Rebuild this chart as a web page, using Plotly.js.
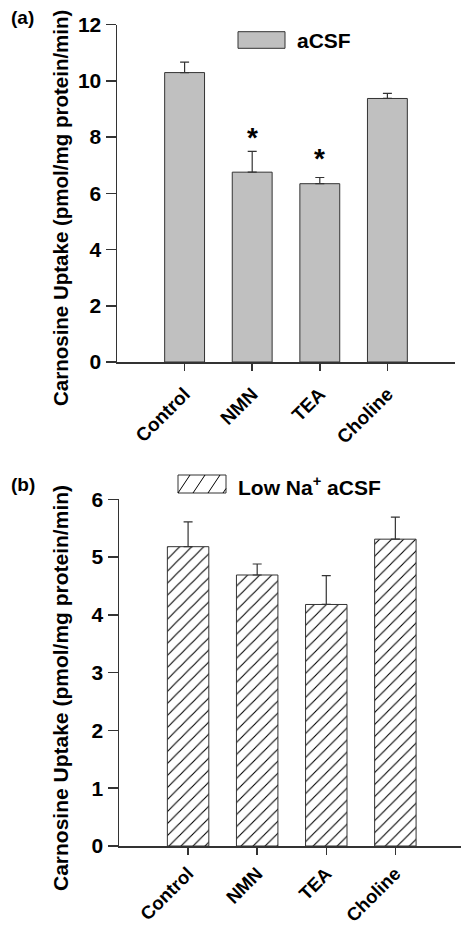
<!DOCTYPE html>
<html>
<head>
<meta charset="utf-8">
<script src="https://cdn.plot.ly/plotly-3.0.1.min.js"></script>
<style>html,body{margin:0;padding:0;background:#fff;}#chart{width:461px;height:925px;}</style>
</head>
<body>
<div id="chart"></div>
<script>
// ---- data ----
const categories = ["Control", "NMN", "TEA", "Choline"];
const uptakeACSF = [10.29, 6.75, 6.34, 9.37];
const errACSF = [0.37, 0.74, 0.22, 0.18];
const uptakeLowNa = [5.18, 4.69, 4.18, 5.31];
const errLowNa = [0.43, 0.19, 0.50, 0.38];
const starCategories = ["NMN", "TEA"];
const starLevels = [7.97, 7.22];
const yTicksA = [0, 2, 4, 6, 8, 10, 12];
const yTicksB = [0, 1, 2, 3, 4, 5, 6];
const yTitle = "Carnosine Uptake (pmol/mg protein/min)";

const W = 461, H = 925;
const FONT = "Liberation Sans, Arial, Helvetica, sans-serif";
const px = x => x / W;
const py = y => 1 - y / H;
const zeros = categories.map(() => 0);
const bold = arr => arr.map(v => "<b>" + v + "</b>");

const traces = [
  {
    type: "bar", x: categories, y: uptakeACSF, xaxis: "x", yaxis: "y",
    width: 0.59,
    marker: {color: "#c0c0c0", line: {color: "#333", width: 1}},
    error_y: {type: "data", symmetric: false, array: errACSF, arrayminus: zeros,
              color: "#333", thickness: 1.2, width: 4.5},
    showlegend: false, hoverinfo: "skip"
  },
  {
    type: "bar", x: categories, y: uptakeLowNa, xaxis: "x2", yaxis: "y2",
    width: 0.6,
    marker: {color: "#ffffff", line: {color: "#333", width: 1},
             pattern: {shape: "/", fgcolor: "#000", bgcolor: "#fff", size: 8.5, solidity: 0.13}},
    error_y: {type: "data", symmetric: false, array: errLowNa, arrayminus: zeros,
              color: "#333", thickness: 1.2, width: 4.5},
    showlegend: false, hoverinfo: "skip"
  }
];

const axisCommon = {
  showline: true, linecolor: "#333", linewidth: 1.5,
  showgrid: false, zeroline: false,
  ticks: "outside", tickcolor: "#333", tickwidth: 1.5,
  fixedrange: true
};

const layout = {
  width: W, height: H,
  margin: {l: 0, r: 0, t: 0, b: 0},
  paper_bgcolor: "#fff", plot_bgcolor: "rgba(0,0,0,0)",
  font: {family: FONT, color: "#000"},
  bargap: 0,
  xaxis: Object.assign({}, axisCommon, {
    domain: [px(117), px(455)], range: [-1, 4], anchor: "y",
    type: "category", ticklen: 7, tickangle: -45, ticklabelstandoff: 5,
    tickvals: categories, ticktext: bold(categories),
    tickfont: {family: FONT, size: 19}
  }),
  yaxis: Object.assign({}, axisCommon, {
    domain: [py(362), py(24.5)], range: [0, 12], anchor: "x",
    tickvals: yTicksA, ticktext: bold(yTicksA), ticklen: 10,
    tickfont: {family: FONT, size: 21}
  }),
  xaxis2: Object.assign({}, axisCommon, {
    domain: [px(119), 1], range: [-1, 3.95], anchor: "y2",
    type: "category", ticklen: 7, tickangle: -45, ticklabelstandoff: 1,
    tickvals: categories, ticktext: bold(categories),
    tickfont: {family: FONT, size: 18.5}
  }),
  yaxis2: Object.assign({}, axisCommon, {
    domain: [py(846), py(499.3)], range: [0, 6], anchor: "x2",
    tickvals: yTicksB, ticktext: bold(yTicksB), ticklen: 10,
    tickfont: {family: FONT, size: 21}
  }),
  annotations: [
    ...starCategories.map((c, i) => ({
      x: c, y: starLevels[i], xref: "x", yref: "y", text: "<b>*</b>", showarrow: false,
      font: {family: FONT, size: 28}, yanchor: "middle"
    })),
    {x: px(60), y: py(208), xref: "paper", yref: "paper", xanchor: "center", yanchor: "middle",
     text: "<b>" + yTitle + "</b>", textangle: -90, showarrow: false, font: {family: FONT, size: 20.5}},
    {x: px(60), y: py(688), xref: "paper", yref: "paper", xanchor: "center", yanchor: "middle",
     text: "<b>" + yTitle + "</b>", textangle: -90, showarrow: false, font: {family: FONT, size: 21}},
    {x: px(9), y: py(17), xref: "paper", yref: "paper", xanchor: "left", yanchor: "middle",
     text: "<b>(a)</b>", showarrow: false, font: {family: FONT, size: 19}},
    {x: px(9), y: py(484), xref: "paper", yref: "paper", xanchor: "left", yanchor: "middle",
     text: "<b>(b)</b>", showarrow: false, font: {family: FONT, size: 19}},
    {x: px(295), y: py(41), xref: "paper", yref: "paper", xanchor: "left", yanchor: "middle",
     text: "<b>aCSF</b>", showarrow: false, font: {family: FONT, size: 21}},
    {x: px(236), y: py(486), xref: "paper", yref: "paper", xanchor: "left", yanchor: "middle",
     text: "<b>Low Na<sup>+</sup> aCSF</b>", showarrow: false, font: {family: FONT, size: 21}}
  ],
  shapes: [
    {type: "rect", xref: "paper", yref: "paper", x0: px(238), x1: px(285), y0: py(48.3), y1: py(31.7),
     fillcolor: "#c0c0c0", line: {color: "#333", width: 1}},
    {type: "rect", xref: "paper", yref: "paper", x0: px(178), x1: px(226), y0: py(493), y1: py(475),
     fillcolor: "#fff", line: {color: "#333", width: 1}},
    ...[[178, 190], [193, 205], [208, 220], [223, 226]].map(([a, b]) => ({
      type: "line", xref: "paper", yref: "paper",
      x0: px(a), y0: py(493), x1: px(b), y1: py(b === 226 ? 493 - (226 - 223) * 1.5 : 475),
      line: {color: "#000", width: 1}
    }))
  ]
};

Plotly.newPlot("chart", traces, layout, {staticPlot: true, displayModeBar: false});
</script>
</body>
</html>
